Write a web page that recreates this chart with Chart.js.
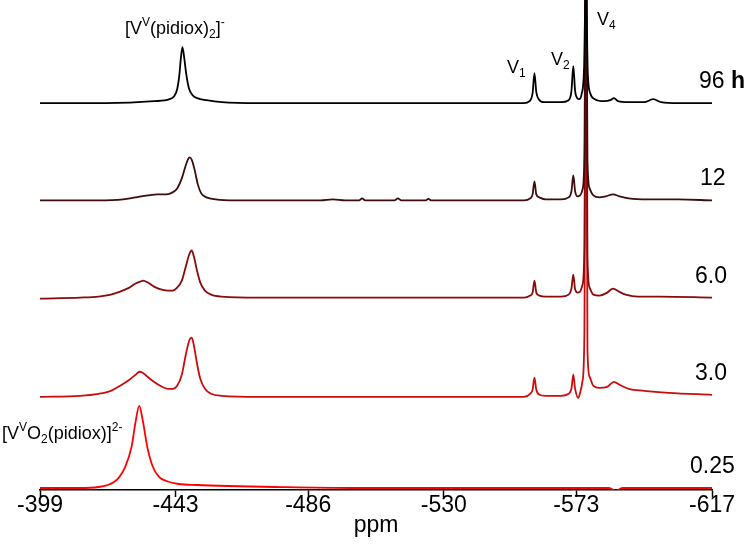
<!DOCTYPE html>
<html>
<head>
<meta charset="utf-8">
<script src="https://cdn.jsdelivr.net/npm/chart.js@4.4.1/dist/chart.umd.min.js"></script>
<style>
  html, body { margin: 0; padding: 0; background: #fff; }
  #wrap { width: 750px; height: 557px; }
</style>
</head>
<body>
<div id="wrap"><canvas id="nmr"></canvas></div>
<script>
// 51V NMR spectra, stacked by reaction time
var tickLabels = [-399, -443, -486, -530, -573, -617];
var timeLabels = ['96', '12', '6.0', '3.0', '0.25'];

var ppm96 = [-399, -420, -436, -441, -442.5, -443.5, -444.2, -444.7, -445.2, -445.8, -446.4, -447.3, -448.5, -450, -453, -458, -470, -530, -556, -557.8, -558.8, -559.4, -560, -560.8, -562.5, -568, -570.5, -571.4, -572, -572.6, -573.3, -573.9, -574.7, -575.5, -576.1, -576.7, -577.5, -579, -582, -584, -585.2, -586.5, -590, -595, -597.9, -600.5, -606, -617];
var int96 = [0, 0, 2, 4, 7, 14, 28, 45, 56, 45, 30, 15, 8, 5, 3, 1, 0, 0, 0, 2, 10, 30, 11, 4, 1, 1, 3, 12, 37, 12, 5, 4, 9, 35, 130, 30, 10, 4, 2, 3, 5, 2, 1, 1, 4, 1, 0, 0];

var ppm12 = [-399, -418, -426, -430, -434, -437, -440, -442, -443.5, -445, -446.2, -447, -447.6, -448.3, -449.2, -450.2, -451.3, -453, -456, -462, -490, -494, -498, -502.5, -503.5, -504.5, -514, -515.1, -516.2, -524, -525, -526, -556, -558, -558.8, -559.4, -560, -561, -563, -568, -570.5, -571.4, -572, -572.6, -573.4, -574.2, -575, -575.6, -576.1, -576.6, -577.3, -578.5, -580.5, -582.5, -584.9, -587, -590, -596, -606, -617];
var int12 = [0, 0, 1, 3, 5, 6, 6, 8, 12, 22, 34, 41, 43, 40, 30, 16, 7, 3, 1, 0, 0, 1, 0, 0, 2, 0, 0, 2, 0, 0, 1.5, 0, 0, 2, 6, 19, 6, 3, 1, 1, 3, 9, 25, 9, 4, 5, 11, 45, 320, 40, 12, 5, 3, 4, 6, 4, 2, 1, 1, 0];

var ppm6 = [-399, -412, -418, -422, -425, -428, -430, -431.5, -432.5, -434, -436, -438.5, -440.5, -442, -443.5, -445, -446.3, -447.4, -448.2, -449, -450, -451, -452.5, -454.5, -458, -470, -556, -558, -558.8, -559.4, -560, -561, -563, -568, -570.5, -571.4, -572, -572.6, -573.4, -574.2, -575, -575.6, -576.1, -576.6, -577.3, -578.5, -580.5, -583, -584.9, -586.8, -589, -593, -600, -617];
var int6 = [-1, 0, 1, 3, 6, 10, 14, 16, 17, 15, 11, 8, 7, 7, 10, 17, 31, 43, 47, 40, 26, 15, 7, 3, 1, 0, 0, 2, 5, 17, 5, 2, 1, 1, 3, 9, 23, 8, 5, 6, 13, 50, 420, 40, 10, 3, 2, 5, 9, 6, 3, 1, 1, 0];

var ppm3 = [-399, -412, -418, -422, -425, -428, -430, -431.3, -432.3, -433.5, -435.5, -438, -440.5, -442, -443.5, -445, -446.3, -447.4, -448.2, -449, -450, -451, -452.5, -454.5, -458, -470, -556, -558, -558.8, -559.4, -560, -561, -563, -568, -570.5, -571.4, -572, -572.6, -573.6, -574.3, -575, -575.6, -576.1, -576.6, -577.3, -578.5, -580.5, -583, -585.2, -587, -590, -595, -603, -617];
var int3 = [-2, -1, 1, 4, 9, 15, 20, 23, 22, 19, 14, 9, 6, 6, 9, 20, 40, 54, 57, 48, 30, 16, 6, 1, -1, -2, -2, 1, 5, 17, 5, 0, -1, -1, 1, 6, 20, 6, -3, 3, 14, 60, 500, 45, 18, 9, 7, 8, 13, 10, 6, 4, 2, 0];

var ppm025 = [-399, -412, -418, -421, -423, -424.5, -426.5, -428.7, -430, -431.2, -432.3, -433.8, -435.5, -437.6, -440, -444, -450, -460, -475, -500, -583.5, -585, -585.8, -586.6, -588, -617];
var int025 = [0, 0, 1, 3, 6, 10, 20, 41, 66, 82, 68, 41, 22, 11, 7, 4, 3, 2, 1, 0, 0, -2, -4, -2, 0, 0];

// vertical stacking of the traces (in y units) and their colours
var stackBase = [386, 289, 192, 95, 2];
var colors = ['#000000', '#3d0c0c', '#8a0a0a', '#cc0c0c', '#ff0000'];

var allPpm = [ppm96, ppm12, ppm6, ppm3, ppm025];
var allInt = [int96, int12, int6, int3, int025];

var FONT = '"Liberation Sans", Arial, sans-serif';
Chart.defaults.font.family = FONT;

var datasets = [];
for (var s = 0; s < allPpm.length; s++) {
  var pts = [];
  for (var i = 0; i < allPpm[s].length; i++) {
    pts.push({ x: allPpm[s][i], y: allInt[s][i] + stackBase[s] });
  }
  datasets.push({
    label: timeLabels[s],
    data: pts,
    borderColor: colors[s],
    borderWidth: 1.8,
    pointRadius: 0,
    fill: false,
    cubicInterpolationMode: 'monotone'
  });
}

function drawRich(ctx, x, y, size, parts) {
  for (var i = 0; i < parts.length; i++) {
    var t = parts[i][0], kind = parts[i][1];
    var fs = kind ? Math.round(size * 0.65) : size;
    var dy = kind == 'sup' ? -size * 0.42 : (kind == 'sub' ? size * 0.22 : 0);
    ctx.font = fs + 'px ' + FONT;
    ctx.fillText(t, x, y + dy);
    x += ctx.measureText(t).width;
  }
}

var labelPlugin = {
  id: 'nmrLabels',
  afterDraw: function(chart) {
    var ctx = chart.ctx;
    var yScale = chart.scales.y;
    ctx.save();
    ctx.fillStyle = '#000';
    ctx.textAlign = 'left';
    ctx.textBaseline = 'alphabetic';
    drawRich(ctx, 125, 34, 18, [['[V', ''], ['V', 'sup'], ['(pidiox)', ''], ['2', 'sub'], [']', ''], ['-', 'sup']]);
    drawRich(ctx, 2, 439, 18, [['[V', ''], ['V', 'sup'], ['O', ''], ['2', 'sub'], ['(pidiox)]', ''], ['2-', 'sup']]);
    drawRich(ctx, 507, 73, 18, [['V', ''], ['1', 'sub']]);
    drawRich(ctx, 551, 65, 18, [['V', ''], ['2', 'sub']]);
    drawRich(ctx, 597, 25, 18, [['V', ''], ['4', 'sub']]);

    var xs = [699, 700, 695, 695, 690];
    for (var i = 0; i < timeLabels.length; i++) {
      var y = yScale.getPixelForValue(stackBase[i]) - 15;
      ctx.font = '23px ' + FONT;
      ctx.fillText(timeLabels[i], xs[i], y);
      if (i == 0) {
        var w = ctx.measureText(timeLabels[i] + ' ').width;
        ctx.font = 'bold 23px ' + FONT;
        ctx.fillText('h', xs[i] + w, y);
      }
    }
    ctx.restore();
  }
};

new Chart(document.getElementById('nmr'), {
  type: 'line',
  data: { datasets: datasets },
  options: {
    responsive: true,
    maintainAspectRatio: false,
    animation: false,
    layout: { padding: { left: 40, right: 38, top: 0, bottom: 20 } },
    plugins: {
      legend: { display: false },
      tooltip: { enabled: false }
    },
    scales: {
      x: {
        type: 'linear',
        reverse: true,
        min: -617,
        max: -399,
        afterBuildTicks: function(scale) {
          scale.ticks = tickLabels.map(function(v) { return { value: v }; });
        },
        ticks: {
          autoSkip: false,
          maxRotation: 0,
          padding: -3,
          color: '#000',
          font: { size: 23, lineHeight: 1 },
          callback: function(v) { return String(v); }
        },
        grid: { drawOnChartArea: false, drawTicks: true, tickLength: 7, tickColor: '#000', tickWidth: 1.5 },
        border: { display: true, color: '#000', width: 1.5 },
        title: { display: true, text: 'ppm', color: '#000', font: { size: 23, lineHeight: 1 }, padding: { top: 0, bottom: 0 } }
      },
      y: {
        display: false,
        min: 0,
        max: 489
      }
    }
  },
  plugins: [labelPlugin]
});
</script>
</body>
</html>
